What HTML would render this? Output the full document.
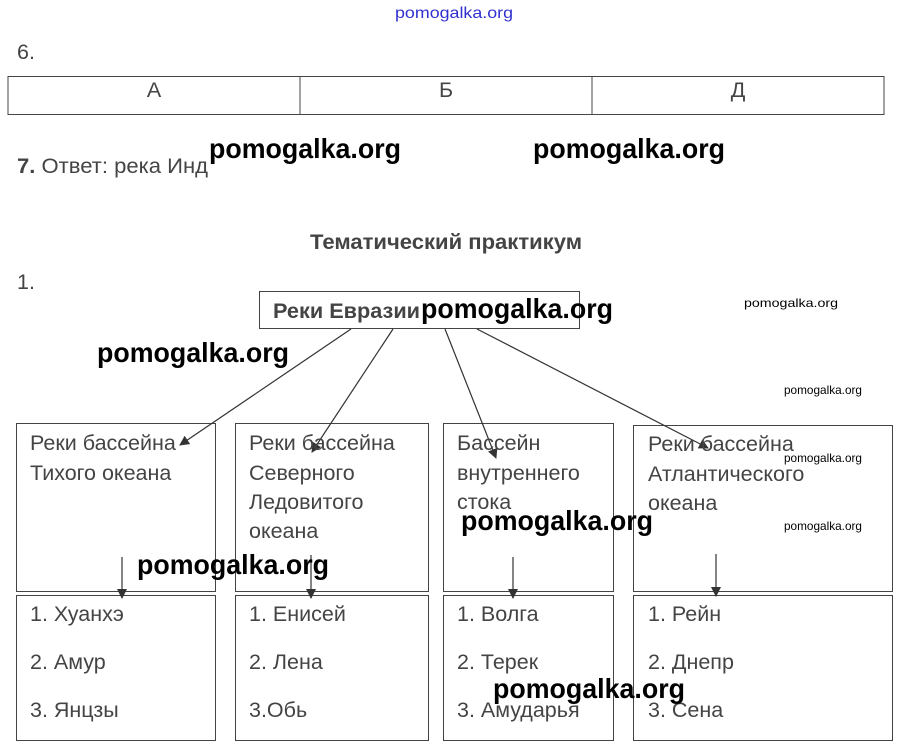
<!DOCTYPE html>
<html><head><meta charset="utf-8"><style>
html,body{margin:0;padding:0;background:#fff;}
svg{display:block}
.t{font-family:"Liberation Sans",sans-serif;fill:#444;font-size:21.5px}
.w{font-family:"Liberation Sans",sans-serif;fill:#000;font-size:28px;font-weight:bold}
.ws{font-family:"Liberation Sans",sans-serif;fill:#000;font-size:12px}
</style></head><body>
<svg width="905" height="756" viewBox="0 0 905 756" xmlns="http://www.w3.org/2000/svg">
<defs><marker id="a" markerWidth="10" markerHeight="10" refX="9" refY="5" orient="auto" markerUnits="userSpaceOnUse"><path d="M0,0 L10,5 L0,10 z" fill="#333"/></marker></defs>
<text x="395" y="18" font-family="Liberation Sans,sans-serif" font-size="16" fill="#3030d0" textLength="118" lengthAdjust="spacingAndGlyphs">pomogalka.org</text>
<text class="t" x="17" y="59">6.</text>
<g stroke="#444" stroke-width="1" fill="none">
<rect x="8" y="76.5" width="876" height="38"/>
<line x1="300" y1="76" x2="300" y2="115"/><line x1="592" y1="76" x2="592" y2="115"/>
</g>
<text class="t" x="154" y="97" text-anchor="middle">А</text>
<text class="t" x="446" y="97" text-anchor="middle">Б</text>
<text class="t" x="738" y="97" text-anchor="middle">Д</text>
<text class="t" x="17" y="173" textLength="191" lengthAdjust="spacingAndGlyphs"><tspan font-weight="bold">7.</tspan> Ответ: река Инд</text>
<text class="w" x="209" y="158" textLength="192" lengthAdjust="spacingAndGlyphs">pomogalka.org</text>
<text class="w" x="533" y="158" textLength="192" lengthAdjust="spacingAndGlyphs">pomogalka.org</text>
<text class="t" x="310" y="249" font-weight="bold" font-size="20" textLength="272" lengthAdjust="spacingAndGlyphs">Тематический практикум</text>
<text class="t" x="17" y="289">1.</text>
<g stroke="#444" stroke-width="1" fill="none">
<rect x="259.5" y="291.5" width="320" height="37"/>
<rect x="16.5" y="423.5" width="199" height="168"/>
<rect x="235.5" y="423.5" width="193" height="168"/>
<rect x="443.5" y="423.5" width="170" height="168"/>
<rect x="633.5" y="425.5" width="259" height="166"/>
<rect x="16.5" y="595.5" width="199" height="145"/>
<rect x="235.5" y="595.5" width="193" height="145"/>
<rect x="443.5" y="595.5" width="170" height="145"/>
<rect x="633.5" y="595.5" width="259" height="145"/>
</g>
<g stroke="#333" stroke-width="1.2" marker-end="url(#a)">
<line x1="351" y1="329" x2="180" y2="445"/>
<line x1="393" y1="329" x2="312" y2="452"/>
<line x1="445" y1="329" x2="496" y2="458"/>
<line x1="477" y1="329" x2="708" y2="448"/>
<line x1="122" y1="557" x2="122" y2="598"/>
<line x1="311" y1="555" x2="311" y2="598"/>
<line x1="513" y1="557" x2="513" y2="598"/>
<line x1="716" y1="554" x2="716" y2="596"/>
</g>
<text class="t" x="273" y="318" font-weight="bold" font-size="20" textLength="147" lengthAdjust="spacingAndGlyphs">Реки Евразии</text>
<text class="w" x="421" y="318" textLength="192" lengthAdjust="spacingAndGlyphs">pomogalka.org</text>
<text class="ws" x="744" y="307" textLength="94" lengthAdjust="spacingAndGlyphs">pomogalka.org</text>
<text class="w" x="97" y="362" textLength="192" lengthAdjust="spacingAndGlyphs">pomogalka.org</text>
<text class="ws" x="784" y="394" font-size="11" textLength="78" lengthAdjust="spacingAndGlyphs">pomogalka.org</text>
<g class="t">
<text x="30" y="450">Реки бассейна</text><text x="30" y="480">Тихого океана</text>
<text x="249" y="450">Реки бассейна</text><text x="249" y="480">Северного</text><text x="249" y="509">Ледовитого</text><text x="249" y="538">океана</text>
<text x="457" y="450">Бассейн</text><text x="457" y="480">внутреннего</text><text x="457" y="509">стока</text>
<text x="648" y="451">Реки бассейна</text><text x="648" y="481">Атлантического</text><text x="648" y="510">океана</text>
<text x="30" y="621">1. Хуанхэ</text><text x="30" y="669">2. Амур</text><text x="30" y="717">3. Янцзы</text>
<text x="249" y="621">1. Енисей</text><text x="249" y="669">2. Лена</text><text x="249" y="717">3.Обь</text>
<text x="457" y="621">1. Волга</text><text x="457" y="669">2. Терек</text><text x="457" y="717">3. Амударья</text>
<text x="648" y="621">1. Рейн</text><text x="648" y="669">2. Днепр</text><text x="648" y="717">3. Сена</text>
</g>
<text class="ws" x="784" y="462" font-size="11" textLength="78" lengthAdjust="spacingAndGlyphs">pomogalka.org</text>
<text class="ws" x="784" y="530" font-size="11" textLength="78" lengthAdjust="spacingAndGlyphs">pomogalka.org</text>
<text class="w" x="461" y="530" textLength="192" lengthAdjust="spacingAndGlyphs">pomogalka.org</text>
<text class="w" x="137" y="574" textLength="192" lengthAdjust="spacingAndGlyphs">pomogalka.org</text>
<text class="w" x="493" y="698" textLength="192" lengthAdjust="spacingAndGlyphs">pomogalka.org</text>
</svg>
</body></html>
